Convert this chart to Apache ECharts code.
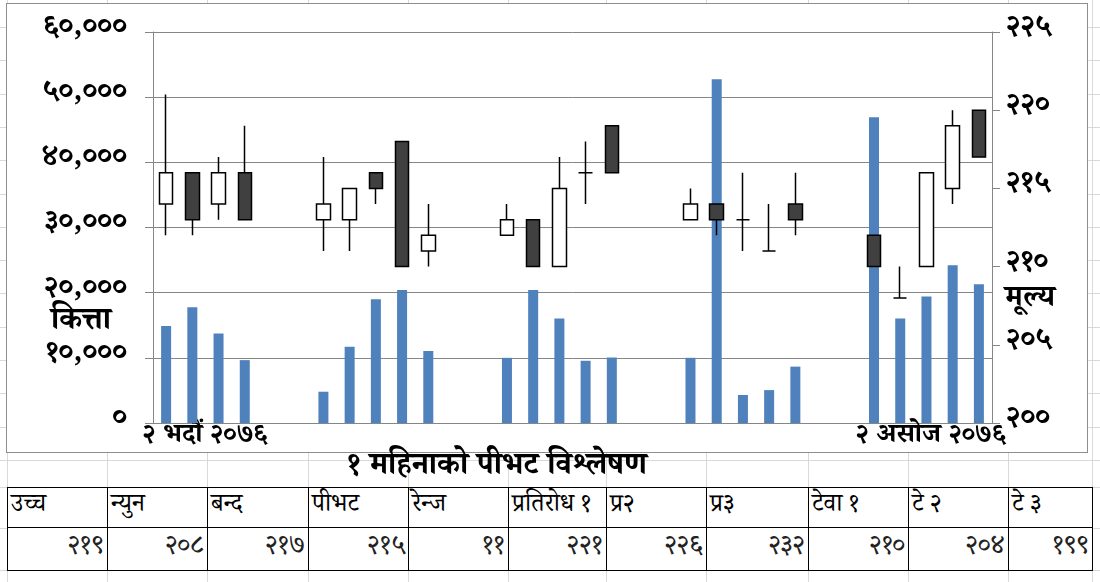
<!DOCTYPE html>
<html>
<head>
<meta charset="utf-8">
<script src="https://cdn.jsdelivr.net/npm/echarts@6/dist/echarts.min.js"></script>
<style>
  html, body { margin: 0; padding: 0; background: #fff; }
  body { width: 1100px; height: 582px; position: relative; overflow: hidden;
         font-family: 'Noto Serif Devanagari', 'Noto Sans Devanagari', 'Mangal', 'Lohit Devanagari', 'Noto Sans', sans-serif; }
  .vline { position: absolute; top: 0; width: 1px; height: 582px; background: #d9d9d9; }
  .hline { position: absolute; left: 0; height: 1px; width: 1100px; background: #d9d9d9; }
  #frame { position: absolute; left: 6px; top: 3px; width: 1080px; height: 448px; border: 1px solid #8e8e8e; background: #fff; }
  #chart { position: absolute; left: 0; top: 0; width: 1080px; height: 448px; }
  #title { position: absolute; left: 247px; width: 500px; top: 451px; height: 36px; text-align: center;
           font-size: 31px; font-weight: bold; line-height: 36px; color: #000; }
  table { position: absolute; left: 7px; top: 487px; border-collapse: collapse; background: #fff; table-layout: fixed; }
  td { border: 1.5px solid #000; color: #000; padding: 0 3px; white-space: nowrap; overflow: hidden; }
  tr.h td { height: 39px; text-align: left; font-size: 25px; }
  tr.v td { height: 40px; text-align: right; font-size: 27px; color: #222; }
</style>
</head>
<body>
<div id="bg"></div>
<div id="frame"><div id="chart"></div></div>
<div id="title"></div>
<table id="tbl"><tr class="h" id="thead"></tr><tr class="v" id="tvals"></tr></table>
<script>
// ---------- data ----------
const categories = ['२ भदौं २०७६','३ भदौं २०७६','४ भदौं २०७६','५ भदौं २०७६','६ भदौं २०७६','७ भदौं २०७६',
  '८ भदौं २०७६','९ भदौं २०७६','१० भदौं २०७६','११ भदौं २०७६','१२ भदौं २०७६','१३ भदौं २०७६','१४ भदौं २०७६',
  '१५ भदौं २०७६','१६ भदौं २०७६','१७ भदौं २०७६','१८ भदौं २०७६','१९ भदौं २०७६','२० भदौं २०७६','२१ भदौं २०७६',
  '२२ भदौं २०७६','२३ भदौं २०७६','२४ भदौं २०७६','२५ भदौं २०७६','२६ भदौं २०७६','२७ भदौं २०७६','२८ भदौं २०७६',
  '२९ भदौं २०७६','३० भदौं २०७६','३१ भदौं २०७६','१ असोज २०७६','२ असोज २०७६'];
const volume = [14900, 17750, 13750, 9650, null, null, 4800, 11700, 19000, 20400, 11050, null, null,
  10000, 20400, 16050, 9550, 10050, null, null, 10000, 52750, 4300, 5050, 8650, null, null,
  46900, 16050, 19400, 24200, 21300];
const openP  = [214, 216, 214, 216, null, null, 213, 213, 216, 218, 211, null, null,
  212, 213, 210, 216, 219, null, null, 213, 214, 213, 211, 214, null, null, 212, 208, 210, 215, 220];
const closeP = [216, 213, 216, 213, null, null, 214, 215, 215, 210, 212, null, null,
  213, 210, 215, 216, 216, null, null, 214, 213, 213, 211, 213, null, null, 210, 208, 216, 219, 217];
const lowP   = [212, 212, 213, 213, null, null, 211, 211, 214, 210, 210, null, null,
  212, 210, 210, 214, 216, null, null, 213, 212, 211, 211, 212, null, null, 210, 208, 210, 214, 217];
const highP  = [221, 216, 217, 219, null, null, 217, 215, 216, 218, 214, null, null,
  214, 213, 217, 218, 219, null, null, 215, 214, 216, 214, 216, null, null, 212, 210, 216, 220, 220];
const volumeAxisName = 'कित्ता';
const priceAxisName = 'मूल्य';
const tableTitle = '१ महिनाको पीभट विश्लेषण';
const tableHeaders = ['उच्च', 'न्युन', 'बन्द', 'पीभट', 'रेन्ज', 'प्रतिरोध १', 'प्र२', 'प्र३', 'टेवा १', 'टे २', 'टे ३'];
const tableValues = ['२१९', '२०८', '२१७', '२१५', '११', '२२१', '२२६', '२३२', '२१०', '२०४', '१९९'];

// ---------- spreadsheet background ----------
const colEdges = [7, 107, 207, 308, 408, 508, 606, 706, 808, 908, 1008, 1092];
const bg = document.getElementById('bg');
colEdges.forEach(x => { const d = document.createElement('div'); d.className = 'vline'; d.style.left = x + 'px'; bg.appendChild(d); });
const rowEdges = [];
for (let y = 27; y < 460; y += 33.3) rowEdges.push(Math.round(y));
rowEdges.push(487, 528, 570);
rowEdges.forEach(y => { const d = document.createElement('div'); d.className = 'hline'; d.style.top = y + 'px'; bg.appendChild(d); });

// ---------- table ----------
document.getElementById('title').textContent = tableTitle;
const th = document.getElementById('thead'), tv = document.getElementById('tvals');
tableHeaders.forEach((h, i) => {
  const w = colEdges[i + 1] - colEdges[i];
  const a = document.createElement('td'); a.textContent = h; a.style.width = (w - 7) + 'px'; a.style.maxWidth = (w - 7) + 'px'; th.appendChild(a);
  const b = document.createElement('td'); b.textContent = tableValues[i]; tv.appendChild(b);
});

// ---------- chart ----------
const dev = s => String(s).replace(/[0-9]/g, d => '०१२३४५६७८९'[d]);
const font = "'Noto Serif Devanagari', 'Noto Sans Devanagari', 'Mangal', 'Lohit Devanagari', 'Noto Sans', sans-serif";
const candles = categories.map((c, i) => openP[i] == null ? '-' : [openP[i], closeP[i], lowP[i], highP[i]]);
const vols = volume.map(v => v == null ? '-' : v);
const axisGray = '#868686';

const chart = echarts.init(document.getElementById('chart'), null, { renderer: 'canvas' });
chart.setOption({
  animation: false,
  backgroundColor: '#fff',
  grid: { left: 146, right: 95, top: 28, bottom: 29, containLabel: false, outerBoundsMode: 'none' },
  xAxis: {
    type: 'category', data: categories, boundaryGap: true,
    axisLine: { lineStyle: { color: axisGray, width: 1 } },
    axisTick: { show: false },
    axisLabel: {
      interval: 0, margin: 3, color: '#000', fontFamily: font, fontWeight: 'bold', fontSize: 27,
      formatter: (v, i) => i === 0 ? '{a|' + v + '}' : (i === categories.length - 1 ? '{b|' + v + '}' : ''),
      rich: {
        a: { padding: [0, 0, 0, 78], fontFamily: font, fontWeight: 'bold', fontSize: 27, color: '#000' },
        b: { padding: [0, 96, 0, 0], fontFamily: font, fontWeight: 'bold', fontSize: 27, color: '#000' }
      }
    },
    splitLine: { show: false }
  },
  yAxis: [
    {
      type: 'value', min: 0, max: 60000, interval: 10000, position: 'left',
      name: volumeAxisName, nameLocation: 'start', nameRotate: 0, nameGap: -97,
      nameTextStyle: { fontFamily: font, fontWeight: 'bold', fontSize: 31, color: '#000',
        align: 'center', verticalAlign: 'middle', padding: [0, 144, 0, 0] },
      axisLine: { show: true, lineStyle: { color: axisGray } },
      axisTick: { show: true, inside: false, length: 8, lineStyle: { color: axisGray } },
      splitLine: { show: true, lineStyle: { color: axisGray, width: 1 } },
      axisLabel: { margin: 26, color: '#000', fontFamily: font, fontWeight: 'bold', fontSize: 30,
        formatter: v => dev(v.toLocaleString('en-US')) }
    },
    {
      type: 'value', min: 200, max: 225, interval: 5, position: 'right',
      name: priceAxisName, nameLocation: 'start', nameRotate: 0, nameGap: -120,
      nameTextStyle: { fontFamily: font, fontWeight: 'bold', fontSize: 30, color: '#000',
        align: 'center', verticalAlign: 'middle', padding: [0, 0, 0, 76] },
      axisLine: { show: true, lineStyle: { color: axisGray } },
      axisTick: { show: true, inside: false, length: 8, lineStyle: { color: axisGray } },
      splitLine: { show: false },
      axisLabel: { margin: 14, color: '#000', fontFamily: font, fontWeight: 'bold', fontSize: 30,
        formatter: v => dev(v) }
    }
  ],
  series: [
    {
      type: 'bar', yAxisIndex: 0, data: vols, barWidth: 10, z: 2,
      itemStyle: { color: '#4f81bd' }
    },
    {
      type: 'candlestick', yAxisIndex: 1, data: candles, barWidth: 14, z: 3,
      itemStyle: { color: '#ffffff', color0: '#404040', borderColor: '#000', borderColor0: '#000',
        borderColorDoji: '#000', borderWidth: 1.5 }
    }
  ]
});
</script>
</body>
</html>
